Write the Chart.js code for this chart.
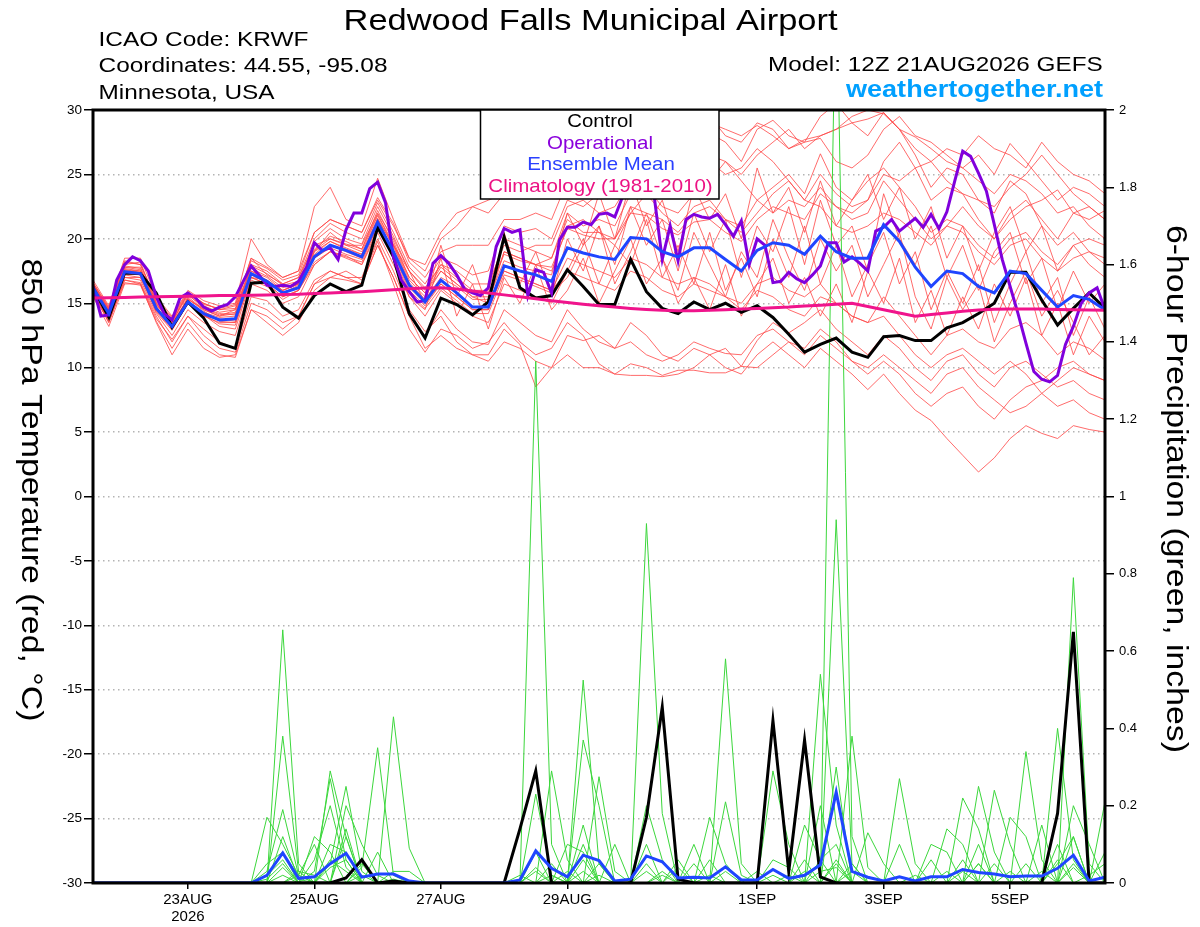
<!DOCTYPE html>
<html><head><meta charset="utf-8">
<script src="https://cdn.jsdelivr.net/npm/chart.js@4.4.1/dist/chart.umd.min.js"></script>
<style>html,body{margin:0;padding:0;background:#fff;}canvas{display:block;}</style>
</head><body>
<canvas id="c" width="1200" height="927"></canvas>
<script>
// ---------- DATA ----------
const hours = [0,6,12,18,24,30,36,42,48,54,60,66,72,78,84,90,96,102,108,114,120,126,132,138,144,150,156,162,168,174,180,186,192,198,204,210,216,222,228,234,240,246,252,258,264,270,276,282,288,294,300,306,312,318,324,330,336,342,348,354,360,366,372,378,384];
const tickHours = [36,84,132,180,252,300,348];
const tickLabels = ['23AUG','25AUG','27AUG','29AUG','1SEP','3SEP','5SEP'];
const yearLabel = '2026';

const opHours = [0,3,6,9,12,15,18,21,24,27,30,33,36,39,42,45,48,51,54,57,60,63,66,69,72,75,78,81,84,87,90,93,96,99,102,105,108,111,114,117,120,123,126,129,132,135,138,141,144,147,150,153,156,159,162,165,168,171,174,177,180,183,186,189,192,195,198,201,204,207,210,213,216,219,222,225,228,231,234,237,240,243,246,249,252,255,258,261,264,267,270,273,276,279,282,285,288,291,294,297,300,303,306,309,312,315,318,321,324,327,330,333,336,339,342,345,348,351,354,357,360,363,366,369,372,375,378,381,384];
const opTemp = [
16.3,14.0,14.1,16.8,18.0,18.6,18.3,17.5,15.5,14.2,
13.7,15.4,15.8,15.4,14.7,14.4,14.7,14.9,15.5,16.7,
17.9,17.2,16.4,16.3,16.4,16.3,16.7,17.8,19.7,19.1,
19.3,18.4,20.7,22.0,22.0,23.9,24.4,22.8,18.6,16.8,
15.9,15.1,15.2,18.1,18.7,18.1,17.2,16.1,15.8,15.6,
16.2,19.4,20.8,20.5,20.7,15.6,17.6,17.4,15.8,19.9,
20.9,20.9,21.3,21.1,21.9,22.0,21.7,23.3,24.3,24.8,
23.9,23.2,18.4,21.0,18.3,21.5,21.9,21.7,21.6,21.9,
21.1,20.2,21.4,18.0,20.0,19.5,16.6,16.7,17.4,16.9,
16.6,17.2,17.9,19.7,19.7,18.2,18.6,18.1,17.5,20.6,
20.9,21.5,20.6,21.1,21.6,20.9,21.9,20.8,22.1,24.5,
26.8,26.4,25.1,23.7,21.1,18.4,16.3,14.2,11.9,9.7,
9.1,8.9,9.4,11.8,13.2,15.0,15.8,16.2,14.5];

const controlTemp = [
16.2,13.9,17.35,17.3,15.8,13.15,15.1,13.85,11.9,11.5,
16.55,16.65,14.7,13.85,15.6,16.5,15.9,16.4,20.9,18.6,
14.2,12.3,15.4,14.9,14.1,15.1,20.15,16.2,15.4,15.6,
17.6,16.3,14.9,14.9,18.4,15.9,14.6,14.2,15.1,14.5,
15.0,14.3,14.8,13.9,12.6,11.2,11.8,12.3,11.2,10.8,
12.4,12.5,12.1,12.1,13.1,13.5,14.2,15.0,17.4,17.4,
15.25,13.3,14.6,15.8,14.6];

const meanTemp = [
16.2,14.2,17.45,17.3,14.6,13.2,15.1,14.2,13.7,13.8,
17.3,16.7,15.8,16.2,18.6,19.5,19.1,18.6,21.3,19.0,
16.4,15.1,16.8,15.8,14.7,14.7,17.9,17.5,17.2,16.7,
19.3,18.9,18.6,18.4,20.1,20.0,19.0,18.6,19.3,19.3,
18.4,17.5,19.1,19.7,19.5,18.8,20.2,19.0,18.5,18.5,
21.1,19.8,17.8,16.3,17.5,17.3,16.3,15.8,17.5,17.3,
16.0,14.7,15.6,15.3,14.5];

const climoTemp = [
15.4,15.42,15.45,15.48,15.5,15.52,15.55,15.57,15.6,15.6,
15.62,15.65,15.68,15.7,15.75,15.8,15.85,15.9,15.97,16.05,
16.12,16.18,16.2,16.1,15.95,15.8,15.65,15.5,15.35,15.2,
15.05,14.92,14.8,14.7,14.6,14.52,14.45,14.42,14.42,14.45,
14.5,14.55,14.6,14.65,14.7,14.78,14.85,14.93,15.0,14.75,
14.5,14.25,14.0,14.12,14.25,14.37,14.48,14.53,14.55,14.55,
14.55,14.52,14.5,14.48,14.45];

const controlPrecip = [
0,0,0,0,0,0,0,0,0,0,
0,0,0,0,0,0,0.013,0.06,0,0.005,
0,0,0,0,0,0,0,0.14,0.29,0,
0,0,0,0,0,0.17,0.455,0.01,0,0,
0,0,0,0.42,0.03,0.37,0.016,0,0,0,
0,0,0,0,0,0,0,0,0,0,
0,0.18,0.65,0,0];

const meanPrecip = [
0,0,0,0,0,0,0,0,0,0,
0,0.02,0.078,0.012,0.016,0.05,0.077,0.015,0.023,0.023,
0.005,0,0,0,0,0,0,0.008,0.083,0.038,
0.016,0.072,0.058,0.005,0.01,0.07,0.055,0.013,0.015,0.013,
0.042,0.008,0.008,0.035,0.012,0.02,0.047,0.235,0.03,0.015,
0.005,0.016,0.005,0.016,0.016,0.035,0.027,0.023,0.016,0.018,
0.018,0.038,0.072,0.005,0.015];

const memberTemps = [
[16.5,14.5,18.2,18.0,15.2,13.8,15.8,15.0,14.5,14.8,18.5,17.2,16.5,17.0,20.0,21.2,20.5,20.0,22.8,20.5,17.8,16.5,18.5,18.0,17.2,17.5,21.0,20.5,20.8,20.0,23.0,22.5,23.5,24.0,26.5,27.0,26.0,25.5,27.0,28.2,27.5,26.0,28.5,29.2,28.0,27.5,29.5,30.5,29.0,28.0,29.8,28.5,26.5,24.0,25.5,25.0,23.0,22.0,24.5,23.5,21.0,19.5,20.5,19.0,18.0],
[15.8,13.5,16.8,16.5,13.8,12.2,14.0,13.0,12.0,11.5,15.5,15.2,14.0,14.5,16.8,17.5,17.0,16.5,19.5,17.0,14.0,12.5,14.5,13.0,12.0,11.8,14.5,13.5,12.5,12.0,14.5,13.0,12.0,11.5,13.5,12.5,11.0,10.5,11.5,11.0,10.0,9.5,11.0,12.0,11.0,10.0,11.5,10.5,9.5,8.3,9.5,8.0,6.7,5.9,4.5,3.2,1.9,3.0,4.5,5.5,4.9,4.5,5.5,5.2,5.0],
[16.0,14.0,17.8,17.8,14.8,13.0,15.5,14.5,14.0,14.5,17.8,16.5,15.5,16.0,19.0,20.5,19.5,19.0,21.8,19.5,16.8,15.5,17.5,16.5,15.5,15.0,19.0,18.5,18.0,17.5,21.0,21.5,20.5,19.5,22.0,23.5,22.0,21.0,22.5,23.0,21.5,20.5,22.0,23.5,24.5,23.0,25.0,23.5,22.5,23.0,26.0,27.5,25.5,23.0,24.0,23.5,21.5,20.0,22.0,23.0,21.5,20.0,22.0,22.5,21.5],
[15.5,13.2,16.5,16.5,13.5,11.0,13.0,11.5,10.8,11.0,14.5,13.5,12.5,13.5,16.0,17.0,17.5,16.8,19.8,16.5,13.0,11.2,13.0,12.5,11.5,12.0,13.5,12.0,11.0,11.5,13.5,12.5,10.3,9.5,10.3,10.0,9.4,9.8,9.8,9.6,9.6,10.1,12.1,13.5,12.7,13.5,14.5,13.0,12.0,11.0,12.5,11.5,10.0,9.0,10.5,11.0,9.5,8.5,10.0,10.5,9.5,8.5,9.0,8.0,7.5],
[16.3,14.5,17.6,17.5,15.0,13.5,15.3,14.5,14.0,14.2,17.5,17.0,16.0,16.5,18.5,19.5,19.0,18.5,21.5,19.5,17.5,15.0,19.5,15.5,18.0,14.5,20.5,16.5,19.0,15.5,20.0,17.5,21.0,18.0,22.5,19.5,21.5,17.5,22.0,19.0,21.5,17.0,21.0,19.0,22.5,18.0,23.0,19.5,21.0,17.5,23.5,20.0,18.0,21.0,17.0,19.5,16.0,19.0,20.5,16.5,18.5,14.5,17.5,15.0,16.5],
[16.8,14.8,18.5,18.5,15.5,14.0,16.0,15.2,14.8,15.0,20.0,18.0,17.0,17.5,22.5,24.0,21.5,21.0,24.7,21.5,18.5,17.5,20.0,21.0,22.5,23.0,23.5,24.5,26.0,27.0,28.5,29.5,28.0,29.0,30.5,29.0,27.5,28.5,27.0,26.0,25.0,25.5,27.0,26.0,24.5,23.0,22.5,21.0,20.5,21.0,22.0,21.5,20.5,19.5,21.0,22.5,21.0,20.0,21.5,22.5,23.0,23.8,22.0,21.5,22.2],
[15.9,14.0,17.0,16.8,14.2,12.5,14.5,13.5,12.8,12.5,16.5,16.0,15.0,15.5,18.0,19.0,18.5,18.0,20.5,18.0,15.5,14.0,16.0,15.0,14.0,13.5,16.5,16.0,15.5,15.0,17.5,17.0,16.5,16.0,17.5,17.0,16.0,15.5,16.5,16.0,15.5,14.5,16.0,15.5,14.5,14.0,15.5,15.0,14.0,13.5,15.5,14.0,12.5,11.0,12.5,13.0,12.0,11.5,13.0,13.5,12.5,11.0,12.0,11.5,10.6],
[16.4,14.3,17.8,17.6,14.9,13.6,15.6,14.8,14.3,14.5,18.0,17.5,16.5,17.0,19.5,20.0,19.5,19.5,22.0,20.0,17.5,16.0,18.0,17.5,16.5,16.5,19.5,19.0,19.5,19.5,22.5,23.0,22.0,22.5,24.5,25.5,24.0,23.5,25.0,26.5,26.0,25.0,26.5,27.5,28.5,27.0,28.0,28.5,29.5,30.0,29.7,28.5,27.9,27.0,26.0,25.5,26.5,25.0,27.4,26.0,24.5,23.0,24.0,23.5,22.5],
[15.7,13.8,16.8,16.6,14.0,12.0,14.0,12.5,11.5,11.2,15.0,14.5,13.5,14.0,16.5,17.5,17.0,17.0,20.0,17.5,14.5,12.8,14.0,12.0,11.0,11.0,13.0,11.8,8.5,10.0,12.5,12.1,12.5,11.5,12.0,11.0,10.5,11.0,12.0,11.5,11.1,11.0,12.5,13.0,12.0,11.5,13.0,12.0,10.5,10.0,11.0,10.0,9.0,8.0,9.5,10.0,8.5,7.5,6.5,7.0,8.0,9.0,10.0,9.5,9.0],
[16.1,14.4,17.3,17.2,14.7,13.4,15.4,14.4,13.6,13.5,17.0,16.5,16.0,16.5,18.8,19.8,19.2,18.8,21.5,19.0,16.2,15.0,16.5,15.5,14.5,14.5,17.5,17.0,16.5,16.0,17.5,20.0,16.5,19.5,18.0,21.5,17.0,19.5,16.5,20.5,16.0,18.5,15.5,20.0,17.0,21.0,16.5,19.5,15.5,18.0,20.5,16.5,19.0,14.5,17.5,15.0,18.0,13.5,16.5,19.0,15.0,17.0,12.5,15.5,13.0],
[16.6,14.6,18.0,18.2,15.0,13.5,15.8,15.0,14.5,14.6,18.5,17.8,17.0,17.5,20.5,21.5,21.0,20.5,23.0,21.0,18.5,18.0,20.5,22.0,22.5,22.0,23.5,25.0,26.5,25.5,27.5,28.0,27.0,26.5,28.0,29.0,28.5,27.0,28.5,29.5,28.0,27.5,29.0,28.5,27.0,27.5,27.8,26.0,25.5,26.5,28.5,29.5,28.0,27.5,26.5,25.5,24.5,23.5,25.0,24.5,23.5,22.0,22.5,21.0,20.0],
[16.0,13.5,17.0,17.0,14.4,13.0,15.0,14.0,13.5,13.5,17.0,16.5,15.5,16.0,18.0,19.0,18.7,18.0,20.8,18.5,15.5,14.5,18.5,14.0,16.5,13.0,17.0,15.0,18.0,14.5,16.0,18.5,15.0,17.5,20.0,16.5,18.5,15.0,17.0,14.5,18.0,14.0,16.5,18.5,15.0,17.0,14.0,16.5,13.5,17.5,15.0,18.5,13.5,16.0,12.5,15.5,13.0,16.5,14.0,17.0,12.5,15.0,11.0,14.0,12.0],
[16.2,14.0,17.5,17.4,14.5,13.2,15.2,14.0,13.8,13.6,17.5,16.8,16.0,16.5,19.2,20.2,19.8,19.2,22.2,19.8,17.0,15.8,17.5,16.5,15.5,15.5,19.0,18.5,18.0,18.5,21.5,20.5,20.5,20.0,22.5,22.0,21.5,20.5,22.0,22.5,21.5,21.0,23.0,24.0,25.0,23.5,26.6,24.0,23.0,24.5,25.5,24.0,22.5,20.5,21.5,21.0,19.5,18.5,20.0,20.5,19.0,18.0,19.5,20.0,19.5],
[16.3,14.2,17.4,17.2,14.6,13.3,15.0,14.3,13.9,14.0,17.2,16.6,15.8,16.2,18.5,19.3,18.8,18.4,21.0,18.8,16.0,14.8,16.5,15.5,14.5,14.5,17.5,17.0,16.5,16.0,18.5,18.0,17.5,17.0,18.5,18.0,17.0,16.5,17.0,16.5,15.5,15.0,16.5,17.0,16.0,15.5,16.5,15.0,14.0,13.5,14.0,12.5,11.0,10.0,11.0,11.5,10.5,9.5,10.5,9.5,8.0,7.0,7.5,6.5,6.0],
[16.0,14.1,17.6,17.4,14.3,12.9,15.0,14.1,13.4,13.3,17.0,16.8,15.8,16.4,19.0,19.8,19.3,18.8,21.6,19.4,16.6,15.3,17.0,16.3,15.3,15.3,18.3,17.8,17.5,17.2,22.0,19.5,23.5,20.0,24.5,21.0,23.0,19.0,24.0,21.5,23.5,20.0,25.5,22.0,24.0,20.5,24.5,21.0,23.0,25.0,21.5,24.0,20.0,22.5,18.5,21.0,17.5,20.5,22.5,19.0,21.0,17.5,19.5,18.0,17.0],
[15.6,13.6,16.6,16.4,13.6,11.5,13.5,12.0,11.0,10.8,14.5,14.0,13.0,14.0,16.5,17.0,16.8,16.5,19.5,17.0,14.0,11.5,12.5,11.5,11.0,10.5,12.0,11.5,10.5,10.0,11.0,10.0,10.0,9.5,9.4,9.4,9.3,9.5,10.0,11.0,11.5,10.1,10.0,11.0,12.0,11.0,12.5,11.5,10.5,9.5,10.5,9.5,8.0,7.0,8.0,8.5,7.0,6.0,7.5,8.5,9.0,10.0,10.5,9.5,9.0],
[16.5,14.4,17.9,17.7,15.1,13.7,15.7,14.6,14.2,14.1,17.9,17.3,16.4,16.7,19.8,20.8,20.0,19.6,22.5,20.2,17.5,16.2,18.0,17.0,16.0,16.0,20.0,19.5,19.0,18.5,22.0,21.0,21.5,21.0,23.5,24.0,22.5,22.0,23.5,24.5,26.0,24.5,23.0,22.0,23.0,22.5,24.0,22.5,21.5,22.0,24.5,23.0,21.5,20.0,21.0,20.5,19.0,18.0,19.5,20.0,18.5,17.5,18.5,19.0,18.5],
[16.1,14.3,17.2,17.0,14.5,13.1,15.1,14.1,13.2,13.0,16.8,16.3,15.3,16.0,18.2,19.0,18.6,18.2,21.0,18.6,15.8,14.6,16.2,15.2,14.2,14.2,17.2,16.8,16.3,15.8,17.0,19.5,21.0,16.5,19.0,22.0,18.5,16.0,20.5,18.0,15.5,19.0,17.0,21.5,18.5,16.0,20.0,17.5,19.5,15.5,18.0,20.5,15.5,13.0,17.0,14.5,16.5,12.0,15.0,17.5,14.0,16.0,13.5,11.0,12.5],
[16.4,14.6,17.7,17.5,14.9,13.4,15.3,14.6,14.1,14.3,17.7,17.1,16.2,16.6,19.1,20.0,19.6,19.2,21.9,19.6,17.0,15.8,17.8,16.8,15.8,15.8,18.8,18.3,18.0,17.8,20.8,20.3,20.0,20.0,22.0,21.8,20.8,20.3,21.3,21.5,20.5,19.8,21.5,22.5,22.0,21.5,23.5,22.5,22.0,23.0,25.0,24.5,25.5,26.0,27.0,26.5,28.0,27.0,26.5,25.5,27.5,26.0,25.0,24.5,23.5],
[16.6,14.7,18.3,18.0,15.3,13.9,15.9,14.9,14.6,14.9,18.3,17.7,16.8,17.2,20.5,21.5,21.0,20.5,23.2,21.2,18.2,17.0,19.0,19.5,19.5,19.5,21.5,21.5,22.0,21.5,24.5,25.0,24.5,25.5,27.0,28.5,27.5,27.0,28.5,29.0,28.5,28.0,28.8,28.0,27.0,27.7,28.0,28.5,29.0,29.3,29.8,28.5,27.0,26.0,24.5,23.5,23.0,22.5,24.0,25.0,26.5,25.0,23.5,22.5,21.5]
];

const memberPrecip = [
[0,0,0,0,0,0,0,0,0,0, 0,0,0.655,0.05,0,0,0,0,0,0, 0,0,0,0,0,0,0,0,0.08,0, 0,0,0,0,0,0.2,0.06,0,0,0, 0,0,0,0,0,0,0,2.4,0.12,0, 0,0,0,0,0,0,0.05,0,0,0, 0,0,0.12,0,0],
[0,0,0,0,0,0,0,0,0,0, 0,0.17,0.1,0.02,0,0,0,0,0,0, 0,0,0,0,0,0,0,0,0,0.29, 0.06,0,0,0,0,0,0,0,0,0, 0.58,0.05,0,0,0,0,0,0,0,0, 0,0,0,0,0,0.22,0.14,0,0,0, 0,0,0,0,0],
[0,0,0,0,0,0,0,0,0,0, 0,0,0.38,0.03,0,0,0,0,0,0, 0,0,0,0,0,0,0,0,1.35,0.1, 0,0,0,0,0,0,0,0,0,0, 0,0,0,0.06,0.04,0,0,0,0,0, 0,0,0,0,0,0,0,0,0,0, 0,0,0.79,0.05,0],
[0,0,0,0,0,0,0,0,0,0, 0,0,0,0,0,0.29,0.12,0,0,0, 0,0,0,0,0,0,0,0,0,0, 0,0.525,0.05,0,0,0,0,0,0,0, 0,0,0,0,0,0,0,0.94,0.05,0, 0,0,0,0,0,0,0,0,0,0.34, 0.06,0,0,0,0],
[0,0,0,0,0,0,0,0,0,0, 0,0.03,0.19,0.02,0,0,0,0,0,0.43, 0.09,0,0,0,0,0,0,0,0,0, 0,0,0,0,0,0.93,0.18,0,0,0, 0,0,0,0,0,0,0,0,0,0, 0,0.27,0.05,0,0,0,0,0,0,0, 0,0,0,0,0],
[0,0,0,0,0,0,0,0,0,0, 0,0,0,0,0,0.05,0.25,0.03,0,0, 0,0,0,0,0,0,0,0,0,0, 0,0.37,0.2,0,0,0,0,0,0,0, 0,0,0,0,0,0,0.54,0.15,0,0, 0,0,0,0,0,0,0,0,0,0, 0,0.4,0.06,0,0],
[0,0,0,0,0,0,0,0,0,0, 0,0,0,0,0,0,0,0.04,0.35,0.02, 0,0,0,0,0,0,0,0,0,0, 0,0,0,0.1,0,0,0,0,0,0, 0,0,0,0.29,0.1,0,0,0,0,0, 0,0,0,0,0,0,0,0.24,0.1,0, 0,0,0,0,0],
[0,0,0,0,0,0,0,0,0,0, 0,0,0,0,0.03,0.27,0.06,0,0,0, 0,0,0,0,0,0,0,0,0.23,0.02, 0,0,0,0,0,0,0,0,0,0.17, 0.05,0,0,0,0,0,0,0,0.38,0.04, 0,0,0,0,0,0,0,0,0,0, 0,0,0,0,0.21],
[0,0,0,0,0,0,0,0,0,0, 0,0,0,0,0.12,0.08,0,0,0,0, 0,0,0,0,0,0,0,0,0,0, 0,0,0.275,0.03,0,0,0,0,0,0, 0,0,0,0,0,0.15,0.06,0,0,0, 0,0,0,0,0,0,0.25,0.08,0,0, 0,0,0,0,0],
[0,0,0,0,0,0,0,0,0,0, 0,0.05,0.08,0,0,0,0,0,0,0, 0,0,0,0,0,0,0,0,0,0, 0.1,0.08,0,0,0,0,0,0,0,0, 0.21,0.02,0,0,0,0,0,0.3,0,0, 0,0,0,0,0,0,0,0,0,0, 0,0,0.2,0.1,0],
[0,0,0,0,0,0,0,0,0,0, 0,0,0,0,0,0,0.2,0.1,0.02,0, 0,0,0,0,0,0,0,0,0,0.05, 0,0,0,0,0,0,0,0,0.1,0, 0,0,0,0,0,0,0,0,0,0.13, 0.05,0,0,0,0.14,0.1,0,0,0,0, 0,0,0,0,0],
[0,0,0,0,0,0,0,0,0,0, 0,0,0,0,0.06,0.2,0.04,0,0,0, 0,0,0,0,0,0,0,0,0,0, 0,0.15,0,0,0,0,0,0.06,0,0, 0,0,0,0,0,0,0.2,0,0,0, 0,0,0,0,0,0,0,0,0.17,0.12, 0,0,0,0,0],
[0,0,0,0,0,0,0,0,0,0, 0,0,0,0.02,0.1,0,0,0.05,0,0, 0,0,0,0,0,0,0,0.02,0,0, 0,0,0,0,0,0.1,0,0,0.05,0, 0,0,0,0,0,0,0,0,0,0, 0,0,0,0.1,0.08,0,0,0,0,0, 0,0.1,0,0,0],
[0,0,0,0,0,0,0,0,0,0, 0,0,0,0,0,0,0.14,0,0.08,0, 0,0,0,0,0,0,0,0,0,0, 0,0,0,0,0,0,0,0,0,0.06, 0,0,0.03,0,0,0.06,0,0,0,0, 0,0,0,0.06,0,0,0,0,0,0, 0.15,0,0,0,0.08],
[0,0,0,0,0,0,0,0,0,0, 0,0,0.04,0,0,0,0,0,0,0.03, 0.03,0,0,0,0,0,0,0,0,0, 0,0,0.05,0,0,0,0,0.04,0,0, 0,0,0,0,0,0,0,0.05,0,0, 0,0.1,0,0,0,0.03,0,0,0,0, 0,0,0.04,0,0],
[0,0,0,0,0,0,0,0,0,0, 0,0.02,0.06,0,0,0.1,0.08,0,0,0, 0,0,0,0,0,0,0,0,0.04,0, 0,0.06,0,0,0,0,0.03,0,0,0, 0,0,0,0,0.02,0,0,0,0.05,0, 0,0,0,0,0,0,0,0.05,0,0, 0,0.05,0.12,0,0],
[0,0,0,0,0,0,0,0,0,0, 0,0,0,0.03,0.02,0,0.12,0,0,0.01, 0,0,0,0,0,0,0,0,0,0, 0.03,0,0,0,0,0.05,0,0,0,0, 0,0,0,0,0,0,0.06,0.1,0,0, 0,0,0,0,0,0,0.05,0,0.03,0, 0,0,0,0.02,0.05],
[0,0,0,0,0,0,0,0,0,0, 0,0,0.02,0,0,0.04,0.06,0,0,0, 0,0,0,0,0,0,0,0,0,0.02, 0,0.03,0,0,0,0,0,0,0,0, 0.03,0,0,0.02,0,0,0,0,0.03,0, 0,0,0,0,0.03,0,0,0,0,0.05, 0,0,0,0,0],
[0,0,0,0,0,0,0,0,0,0, 0,0.01,0.05,0,0,0,0,0.02,0,0, 0,0,0,0,0,0,0,0,0.03,0, 0,0,0.02,0,0,0,0.02,0,0,0, 0,0,0,0,0,0.03,0,0.06,0,0, 0,0,0.02,0,0,0.06,0,0,0,0, 0.03,0,0.05,0,0],
[0,0,0,0,0,0,0,0,0,0, 0,0,0.12,0.01,0,0.06,0.03,0,0,0, 0,0,0,0,0,0,0,0,0,0, 0,0.1,0,0,0,0.03,0,0,0,0.02, 0,0,0,0,0,0,0.03,0.04,0,0, 0,0,0,0,0,0,0.1,0,0,0, 0,0.06,0,0,0]
];

// ---------- CHART ----------
Chart.defaults.font.family = '"Liberation Sans", Arial, sans-serif';
Chart.defaults.color = '#000';

const pts = (xs, ys) => xs.map((x, i) => ({x: x, y: ys[i]}));
const datasets = [];
datasets.push({data: pts(hours, climoTemp), yAxisID: 'yT', borderColor: '#f0148c', borderWidth: 3, order: 0});
datasets.push({data: pts(hours, meanTemp), yAxisID: 'yT', borderColor: '#1f45ff', borderWidth: 3, order: 1});
datasets.push({data: pts(hours, meanPrecip), yAxisID: 'yP', borderColor: '#1f45ff', borderWidth: 3, order: 1});
datasets.push({data: pts(opHours, opTemp), yAxisID: 'yT', borderColor: '#8000dc', borderWidth: 3, order: 2});
datasets.push({data: pts(hours, controlTemp), yAxisID: 'yT', borderColor: '#000000', borderWidth: 3, order: 3});
datasets.push({data: pts(hours, controlPrecip), yAxisID: 'yP', borderColor: '#000000', borderWidth: 3, order: 3});
memberPrecip.forEach(m => datasets.push({data: pts(hours, m), yAxisID: 'yP', borderColor: 'rgb(60,215,60)', borderWidth: 1, order: 5}));
memberTemps.forEach(m => datasets.push({data: pts(hours, m), yAxisID: 'yT', borderColor: 'rgba(255,70,70,0.8)', borderWidth: 1, order: 6}));

function stretchText(ctx, s, x, y, font, color, align, width, rot) {
  ctx.save();
  ctx.font = font; ctx.fillStyle = color;
  ctx.textBaseline = 'alphabetic'; ctx.textAlign = 'left';
  const w = ctx.measureText(s).width;
  const k = width ? width / w : 1;
  ctx.translate(x, y);
  if (rot) ctx.rotate(rot);
  ctx.scale(k, 1);
  const x0 = align === 'center' ? -w / 2 : (align === 'right' ? -w : 0);
  ctx.fillText(s, x0, 0);
  ctx.restore();
}

const decor = {
  id: 'decor',
  beforeDraw(chart) {
    const c = chart.ctx;
    c.save(); c.fillStyle = '#fff'; c.fillRect(0, 0, chart.width, chart.height); c.restore();
  },
  afterDatasetsDraw(chart) {
    const c = chart.ctx, a = chart.chartArea;
    c.save();
    c.strokeStyle = '#000'; c.lineWidth = 3;
    c.strokeRect(a.left, a.top, a.right - a.left, a.bottom - a.top);
    c.fillStyle = '#fff';
    c.fillRect(480.5, a.top, 238.5, 89);
    c.lineWidth = 1.5;
    c.strokeRect(480.5, a.top, 238.5, 89);
    c.restore();
    const lf = '18.5px "Liberation Sans", Arial, sans-serif';
    stretchText(c, 'Control', 600, 127, lf, '#000', 'center', 65.6);
    stretchText(c, 'Operational', 600, 148.7, lf, '#8a00dc', 'center', 106);
    stretchText(c, 'Ensemble Mean', 601, 170.3, lf, '#2a40ff', 'center', 147.7);
    stretchText(c, 'Climatology (1981-2010)', 600.5, 192, lf, '#ec1284', 'center', 224.3);
    stretchText(c, 'Redwood Falls Municipal Airport', 590.5, 29.5, '30px "Liberation Sans", Arial, sans-serif', '#000', 'center', 494);
    const hf = '20px "Liberation Sans", Arial, sans-serif';
    stretchText(c, 'ICAO Code: KRWF', 98.5, 45.7, hf, '#000', 'left', 210);
    stretchText(c, 'Coordinates: 44.55, -95.08', 98.5, 72.3, hf, '#000', 'left', 289);
    stretchText(c, 'Minnesota, USA', 98.5, 99, hf, '#000', 'left', 176);
    stretchText(c, 'Model: 12Z 21AUG2026 GEFS', 1102.7, 71, '21px "Liberation Sans", Arial, sans-serif', '#000', 'right', 334.6);
    stretchText(c, 'weathertogether.net', 1103, 96.7, 'bold 23px "Liberation Sans", Arial, sans-serif', '#00a0ff', 'right', 257);
    stretchText(c, '850 hPa Temperature (red, \u00B0C)', 22, 490, '29px "Liberation Sans", Arial, sans-serif', '#000', 'center', 463, Math.PI / 2);
    stretchText(c, '6-hour Precipitation (green, inches)', 1167, 489, '30px "Liberation Sans", Arial, sans-serif', '#000', 'center', 528, Math.PI / 2);
  }
};

new Chart(document.getElementById('c').getContext('2d'), {
  type: 'line',
  data: {datasets: datasets},
  options: {
    responsive: false,
    animation: false,
    devicePixelRatio: 1,
    layout: {padding: {top: 110, left: 0, right: 0, bottom: 0}},
    plugins: {legend: {display: false}, tooltip: {enabled: false}, title: {display: false}},
    elements: {point: {radius: 0}, line: {tension: 0, fill: false}},
    scales: {
      x: {
        type: 'linear', position: 'bottom', min: 0, max: 384,
        afterBuildTicks: (s) => { s.ticks = tickHours.map(v => ({value: v})); },
        afterFit: (s) => { s.height = 44; },
        ticks: {
          autoSkip: false, maxRotation: 0, padding: 3,
          font: {size: 15, lineHeight: 1.1}, color: '#000',
          callback: (v) => {
            const k = tickHours.indexOf(v);
            if (k < 0) return '';
            return k === 0 ? [tickLabels[k], yearLabel] : tickLabels[k];
          }
        },
        grid: {drawOnChartArea: false, drawTicks: true, tickLength: 6, color: '#000', lineWidth: 1.5},
        border: {display: false}
      },
      yT: {
        type: 'linear', position: 'left', min: -30, max: 30,
        afterFit: (s) => { s.width = 93; },
        ticks: {stepSize: 5, font: {size: 13.5}, color: '#000', padding: 2},
        grid: {color: '#b4b4b4', lineWidth: 1.5, drawTicks: true, tickLength: 9, tickColor: '#000', tickWidth: 1.5},
        border: {display: false, dash: [1.5, 3.5]}
      },
      yP: {
        type: 'linear', position: 'right', min: 0, max: 2,
        afterFit: (s) => { s.width = 95; },
        ticks: {stepSize: 0.2, font: {size: 13}, color: '#000', padding: 5,
          callback: (v) => String(+Number(v).toFixed(1))},
        grid: {drawOnChartArea: false, drawTicks: true, tickLength: 9, color: '#000', lineWidth: 1.5},
        border: {display: false}
      }
    }
  },
  plugins: [decor]
});
</script>
</body></html>
